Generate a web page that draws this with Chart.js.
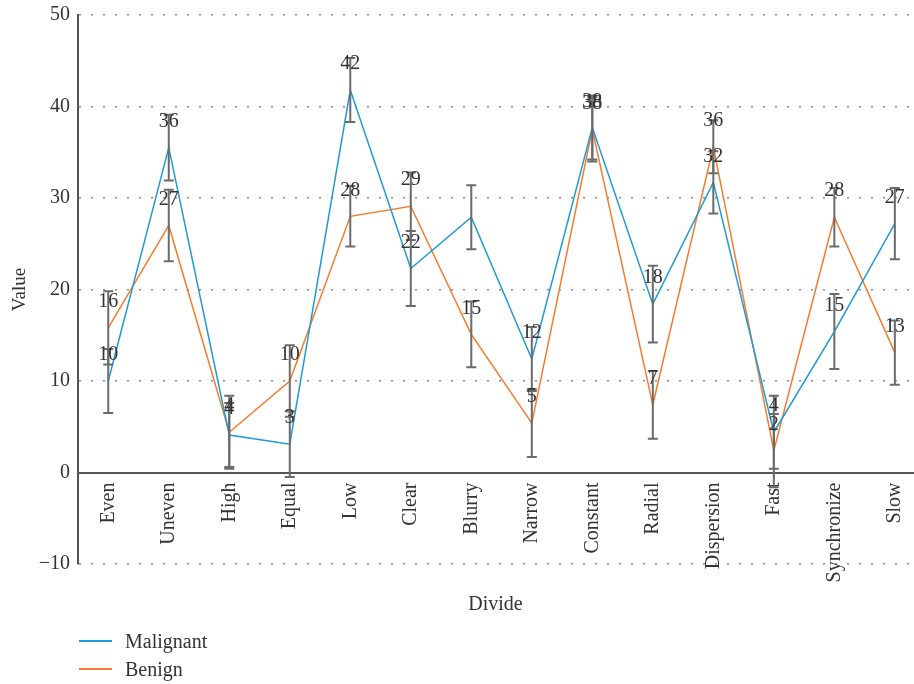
<!DOCTYPE html>
<html>
<head>
<meta charset="utf-8">
<script src="https://cdn.jsdelivr.net/npm/chart.js@4.4.0/dist/chart.umd.min.js"></script>
<style>
  body { margin: 0; background: #fff; }
  #wrap { position: relative; width: 914px; height: 684px; }
  #legend { position: absolute; left: 79px; top: 627px; font: 20px "Liberation Serif", serif; color: #333; }
  .item { display: flex; align-items: center; height: 28px; }
  .swatch { width: 33px; height: 2px; margin-right: 13px; }
</style>
</head>
<body>
<div id="wrap">
  <canvas id="myChart" width="914" height="684"></canvas>
  <div id="legend"></div>
</div>
<script>
// categories along the x axis
var categories = ["Even", "Uneven", "High", "Equal", "Low", "Clear", "Blurry",
  "Narrow", "Constant", "Radial", "Dispersion", "Fast", "Synchronize", "Slow"];

// series values
var malignant = [10, 35.5, 4.1, 3.1, 41.8, 22.3, 27.9, 12.4, 37.7, 18.4, 31.7, 4.4, 15.4, 27.2];
var benign = [15.8, 27, 4.4, 10, 28, 29.1, 15.1, 5.4, 37.5, 7.4, 35.6, 2.4, 27.9, 13.1];

// error bar half widths
var malignantErr = [3.5, 3.6, 3.5, 3.6, 3.5, 4.1, 3.5, 3.5, 3.5, 4.2, 3.4, 4.0, 4.1, 3.9];
var benignErr = [4.0, 3.9, 4.0, 3.9, 3.3, 3.7, 3.6, 3.7, 3.5, 3.7, 2.9, 4.0, 3.2, 3.5];

// value labels printed on the chart (null = not printed)
var malignantLabels = [10, 36, 4, 3, 42, 22, null, 12, 38, 18, 32, 4, 15, 27];
var benignLabels = [16, 27, 4, 10, 28, 29, 15, 5, 38, 7, 36, 2, 28, 13];

var yTicks = [-10, 0, 10, 20, 30, 40, 50];

var serif = '"Liberation Serif", "Times New Roman", serif';
var textColor = "#333";

function toPoints(values) {
  return values.map(function (v, i) {
    return { x: i, y: v };
  });
}

// error bars plus the value written above each point
var errorBarPlugin = {
  id: "errorBars",
  afterDatasetsDraw: function (chart) {
    var ctx = chart.ctx;
    var xs = chart.scales.x;
    var ys = chart.scales.y;
    var errs = [malignantErr, benignErr];
    var texts = [malignantLabels, benignLabels];

    ctx.save();
    ctx.strokeStyle = "#6b6b6b";
    ctx.lineWidth = 2;
    chart.data.datasets.forEach(function (ds, d) {
      ds.data.forEach(function (pt, i) {
        var x = xs.getPixelForValue(pt.x);
        var top = ys.getPixelForValue(pt.y + errs[d][i]);
        var bot = ys.getPixelForValue(pt.y - errs[d][i]);
        ctx.beginPath();
        ctx.moveTo(x, top);
        ctx.lineTo(x, bot);
        ctx.moveTo(x - 5, top);
        ctx.lineTo(x + 5, top);
        ctx.moveTo(x - 5, bot);
        ctx.lineTo(x + 5, bot);
        ctx.stroke();
      });
    });

    ctx.fillStyle = textColor;
    ctx.font = "20px " + serif;
    ctx.textAlign = "center";
    ctx.textBaseline = "middle";
    chart.data.datasets.forEach(function (ds, d) {
      ds.data.forEach(function (pt, i) {
        if (texts[d][i] === null) return;
        var x = xs.getPixelForValue(pt.x);
        var y = ys.getPixelForValue(pt.y);
        ctx.fillText(String(texts[d][i]), x, y - 26);
      });
    });
    ctx.restore();
  }
};

var ctx = document.getElementById("myChart").getContext("2d");
var chart = new Chart(ctx, {
  type: "line",
  data: {
    datasets: [
      {
        label: "Malignant",
        data: toPoints(malignant),
        borderColor: "#1f9ad6",
        borderWidth: 1.5,
        pointRadius: 0,
        tension: 0,
        fill: false
      },
      {
        label: "Benign",
        data: toPoints(benign),
        borderColor: "#f57c2e",
        borderWidth: 1.5,
        pointRadius: 0,
        tension: 0,
        fill: false
      }
    ]
  },
  options: {
    responsive: false,
    animation: false,
    layout: { padding: { left: 0, right: 1, top: 15, bottom: 120 } },
    plugins: {
      legend: { display: false },
      tooltip: { enabled: false }
    },
    scales: {
      x: {
        type: "linear",
        position: { y: 0 },
        min: -0.5,
        max: 13.3,
        afterBuildTicks: function (scale) {
          scale.ticks = categories.map(function (_, i) {
            return { value: i };
          });
        },
        afterFit: function (scale) {
          scale.paddingLeft = 0;
          scale.paddingRight = 0;
        },
        grid: { display: false, drawTicks: false },
        border: { display: true, color: "#555", width: 2 },
        ticks: {
          autoSkip: false,
          minRotation: 90,
          maxRotation: 90,
          padding: 10,
          color: textColor,
          font: { family: serif, size: 20 },
          callback: function (value) {
            return categories[value];
          }
        },
        title: {
          display: true,
          text: "Divide",
          color: textColor,
          font: { family: serif, size: 20 },
          padding: { top: 0, bottom: 4 }
        }
      },
      y: {
        min: -10,
        max: 50,
        afterBuildTicks: function (scale) {
          scale.ticks = yTicks.map(function (v) {
            return { value: v };
          });
        },
        afterFit: function (scale) {
          scale.width = 78;
          scale.paddingTop = 0;
          scale.paddingBottom = 0;
        },
        grid: { color: "#8a8a8a", lineWidth: 1.5, drawTicks: false },
        border: { display: true, color: "#555", width: 2, dash: [2, 10] },
        ticks: {
          padding: 8,
          color: textColor,
          font: { family: serif, size: 20 },
          callback: function (value) {
            return String(value).replace("-", "\u2212");
          }
        },
        title: {
          display: true,
          text: "Value",
          color: textColor,
          font: { family: serif, size: 19 },
          padding: { top: 9, bottom: 0 }
        }
      }
    }
  },
  plugins: [errorBarPlugin]
});

// legend listed under the chart, built from the datasets
var legend = document.getElementById("legend");
chart.data.datasets.forEach(function (ds) {
  var item = document.createElement("div");
  item.className = "item";
  var sw = document.createElement("span");
  sw.className = "swatch";
  sw.style.background = ds.borderColor;
  var label = document.createElement("span");
  label.textContent = ds.label;
  item.appendChild(sw);
  item.appendChild(label);
  legend.appendChild(item);
});
</script>
</body>
</html>
